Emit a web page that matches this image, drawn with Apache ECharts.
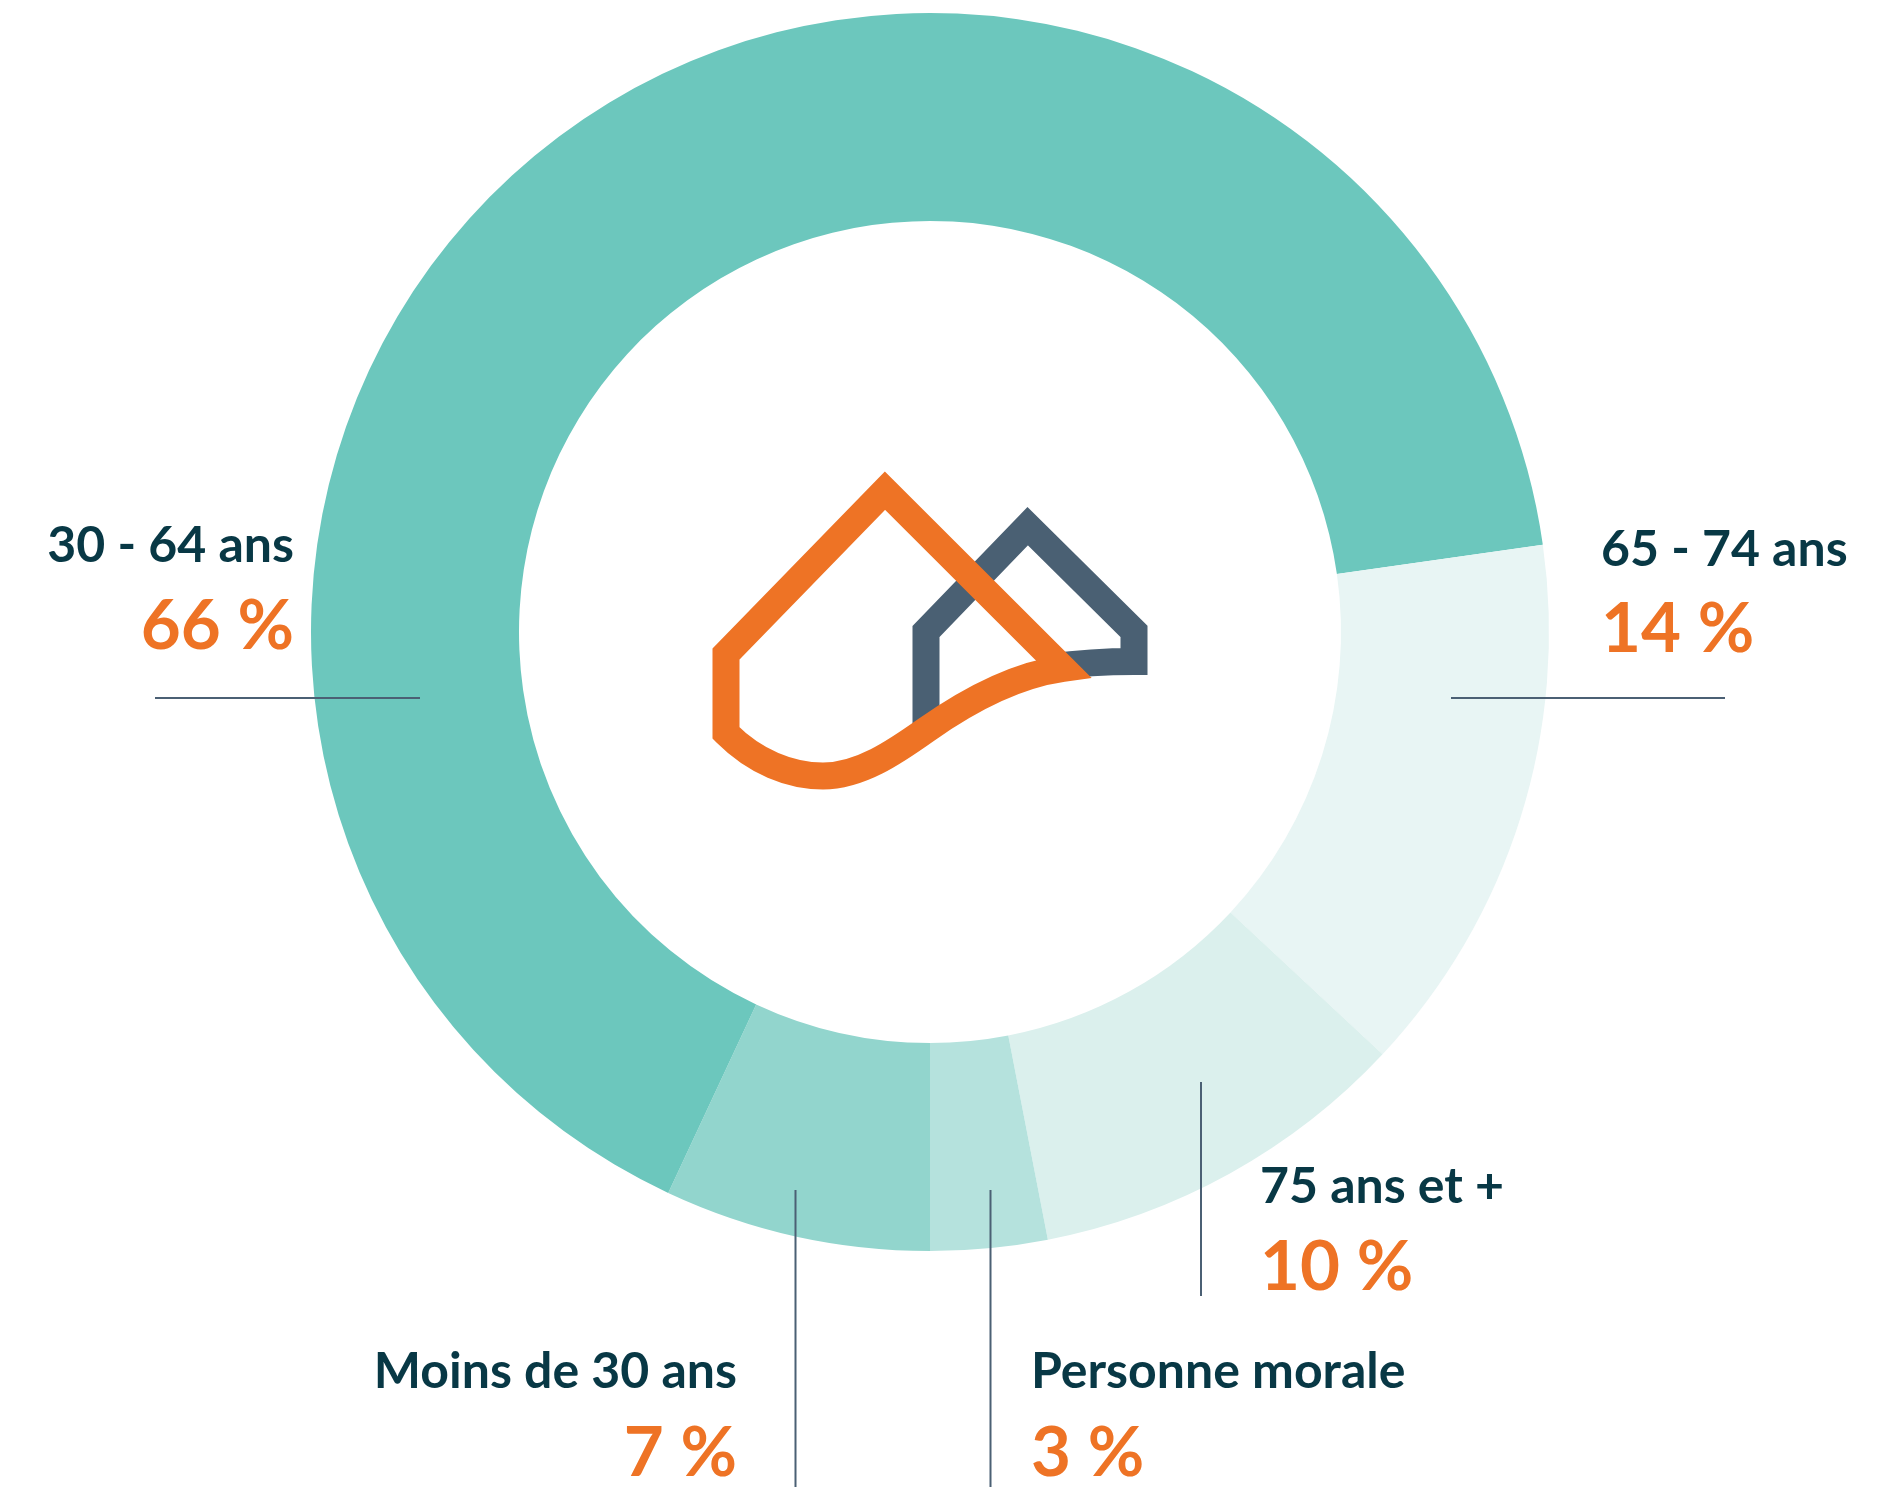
<!DOCTYPE html>
<html>
<head>
<meta charset="utf-8">
<script src="https://cdn.jsdelivr.net/npm/echarts@6/dist/echarts.min.js"></script>
<style>
html,body{margin:0;padding:0;background:#ffffff;}
#chart{width:1902px;height:1487px;}
</style>
</head>
<body>
<div id="chart"></div>
<script>
// ---- data ----
const categories = ['Moins de 30 ans', '30 - 64 ans', '65 - 74 ans', '75 ans et +', 'Personne morale'];
// slice sizes as measured from the ring (percent); labels show them rounded
const shares = [6.95, 65.8, 14.2, 10.0, 3.05];

// ---- styles / layout (kept separate from data) ----
const sliceColors = ['#92D5CD', '#6CC7BD', '#E8F5F4', '#DBF0ED', '#B5E2DD'];
const darkText = '#083845';
const orange = '#EE7325';
const ruleColor = '#4B6074';
const fontFamily = 'Lato, "Open Sans", sans-serif';
const labelLayout = [
  {align: 'right', x: 737,  nameY: 1372, valY: 1454, line: [795.5, 1190, 795.5, 1487]},
  {align: 'right', x: 294,  nameY: 546,  valY: 627,  line: [155, 698, 420, 698]},
  {align: 'left',  x: 1601, nameY: 550,  valY: 630,  line: [1451, 698, 1725, 698]},
  {align: 'left',  x: 1260, nameY: 1187, valY: 1268, line: [1201, 1082, 1201, 1296]},
  {align: 'left',  x: 1031, nameY: 1372, valY: 1454, line: [990.5, 1190, 990.5, 1487]}
];
const darkHousePath = 'M926 728 L926 631.5 L1027.7 526.2 L1134 631.5 L1134 661.5 C1105 661.5 1080 663 1050 667';
const orangeHousePath = 'M885 490.6 L726 654 L726 733 C755 762 790 776 823 776 C860 776 895 752 926 730 C960 706 1010 676 1063 668.5 Z';

const chart = echarts.init(document.getElementById('chart'), null, {renderer: 'canvas'});

const graphics = [];
categories.forEach(function (name, i) {
  const L = labelLayout[i];
  graphics.push({
    type: 'line', silent: true, z: 5,
    shape: {x1: L.line[0], y1: L.line[1], x2: L.line[2], y2: L.line[3]},
    style: {stroke: ruleColor, lineWidth: 2}
  });
  graphics.push({
    type: 'text', silent: true, z: 6, x: L.x, y: L.nameY,
    style: {text: name, fill: darkText, font: 'bold 50px ' + fontFamily, align: L.align, verticalAlign: 'middle'}
  });
  graphics.push({
    type: 'text', silent: true, z: 6, x: L.x, y: L.valY,
    style: {text: Math.round(shares[i]) + ' %', fill: orange, font: 'bold 69px ' + fontFamily, align: L.align, verticalAlign: 'middle'}
  });
});

chart.setOption({
  animation: false,
  backgroundColor: '#ffffff',
  series: [{
    type: 'pie',
    center: [930, 632],
    radius: [411, 619],
    startAngle: -90,
    clockwise: true,
    silent: true,
    avoidLabelOverlap: false,
    label: {show: false},
    labelLine: {show: false},
    emphasis: {disabled: true},
    itemStyle: {borderWidth: 0},
    data: categories.map(function (c, i) {
      return {name: c, value: shares[i], itemStyle: {color: sliceColors[i]}};
    })
  }, {
    type: 'custom',
    coordinateSystem: 'none',
    silent: true,
    z: 10,
    data: [[0]],
    renderItem: function () {
      return {
        type: 'group',
        children: [{
          type: 'path',
          shape: {pathData: darkHousePath},
          style: {fill: 'none', stroke: '#4A6073', lineWidth: 27, lineJoin: 'miter', lineCap: 'butt'}
        }, {
          type: 'path',
          shape: {pathData: orangeHousePath},
          style: {fill: 'none', stroke: '#EE7325', lineWidth: 27, lineJoin: 'miter', miterLimit: 10}
        }]
      };
    }
  }],
  graphic: graphics
});
</script>
</body>
</html>
